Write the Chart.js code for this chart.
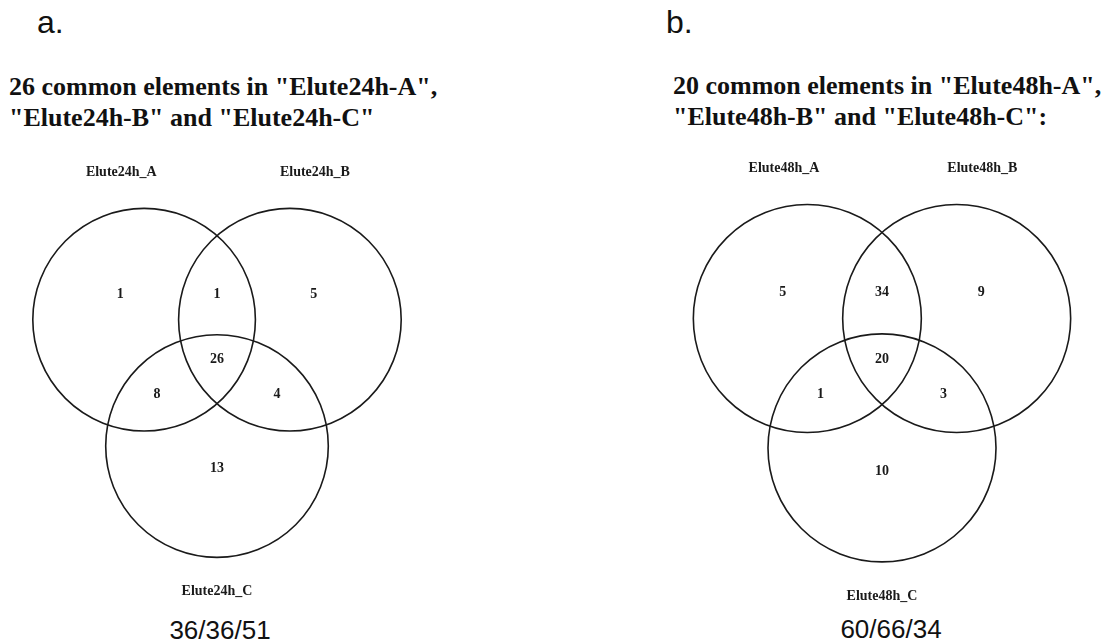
<!DOCTYPE html>
<html>
<head>
<meta charset="utf-8">
<title>Venn diagrams - Elute24h / Elute48h</title>
<script src="https://cdn.jsdelivr.net/npm/chart.js@4.4.1/dist/chart.umd.min.js"></script>
<style>
  html, body { margin: 0; padding: 0; background: #fff; }
  body { width: 1109px; height: 642px; position: relative; overflow: hidden; }
  .tag { position: absolute; font-family: "Liberation Sans", Arial, sans-serif; font-size: 32px; line-height: 32px; color: #111; }
  .title { position: absolute; font-family: "Liberation Serif", "Times New Roman", serif; font-weight: bold; font-size: 26px; line-height: 31px; color: #111; white-space: nowrap; }
  .foot { position: absolute; font-family: "Liberation Sans", Arial, sans-serif; font-size: 26px; line-height: 26px; color: #111; width: 200px; text-align: center; }
  canvas { position: absolute; }
</style>
</head>
<body>
<div class="tag" style="left:37px; top:6px;">a.</div>
<div class="tag" style="left:666px; top:6px;">b.</div>
<div class="title" id="titleA" style="left:9px; top:71px;"></div>
<div class="title" id="titleB" style="left:673px; top:70px;"></div>
<canvas id="vennA" width="400" height="460" style="left:20px; top:150px;"></canvas>
<canvas id="vennB" width="420" height="460" style="left:670px; top:150px;"></canvas>
<div class="foot" id="footA" style="left:120px; top:617px;"></div>
<div class="foot" id="footB" style="left:791px; top:616px;"></div>

<script>
(function () {
  'use strict';

  // urutan region: A saja, A&B, B saja, A&B&C, A&C, B&C, C saja
  const regions = ['A only', 'A and B', 'B only', 'A, B and C', 'A and C', 'B and C', 'C only'];

  const counts24h = [1, 1, 5, 26, 8, 4, 13];
  const counts48h = [5, 34, 9, 20, 1, 3, 10];

  const sets24h = ['Elute24h_A', 'Elute24h_B', 'Elute24h_C'];
  const sets48h = ['Elute48h_A', 'Elute48h_B', 'Elute48h_C'];

  const titles24h = ['26 common elements in "Elute24h-A",', '"Elute24h-B" and "Elute24h-C"'];
  const titles48h = ['20 common elements in "Elute48h-A",', '"Elute48h-B" and "Elute48h-C":'];

  // geometry of the diagram, in units of one circle radius
  const circleCenters = [[-0.655, 0], [0.655, 0], [0, -1.135]];
  const regionAnchors = [[-0.87, 0.23], [0, 0.23], [0.87, 0.23], [0, -0.36], [-0.54, -0.67], [0.54, -0.67], [0, -1.34]];
  const setLabelAnchors = [[-0.86, 1.32], [0.88, 1.32], [0, -2.44]];

  // which region belongs to which set (for the totals under each diagram)
  const membership = [
    [0, 1, 3, 4],  // A
    [1, 2, 3, 5],  // B
    [3, 4, 5, 6]   // C
  ];

  const INK = '#1a1a1a';

  // gambar lingkaran venn pakai skala chart nya
  const vennCircles = {
    id: 'vennCircles',
    beforeDatasetsDraw(chart) {
      const ctx = chart.ctx;
      const xs = chart.scales.x, ys = chart.scales.y;
      ctx.save();
      ctx.strokeStyle = INK;
      ctx.lineWidth = 1.6;
      circleCenters.forEach(function (c) {
        const px = xs.getPixelForValue(c[0]);
        const py = ys.getPixelForValue(c[1]);
        const rx = xs.getPixelForValue(c[0] + 1) - px;
        const ry = py - ys.getPixelForValue(c[1] + 1);
        ctx.beginPath();
        ctx.ellipse(px, py, rx, ry, 0, 0, Math.PI * 2);
        ctx.stroke();
      });
      ctx.restore();
    }
  };

  // tulis angka / nama set di posisi titik nya
  const pointText = {
    id: 'pointText',
    afterDatasetsDraw(chart) {
      const ctx = chart.ctx;
      ctx.save();
      ctx.fillStyle = INK;
      ctx.textAlign = 'center';
      ctx.textBaseline = 'middle';
      chart.data.datasets.forEach(function (ds, i) {
        const meta = chart.getDatasetMeta(i);
        ctx.font = ds.textFont;
        meta.data.forEach(function (el, j) {
          ctx.fillText(String(ds.texts[j]), el.x, el.y);
        });
      });
      ctx.restore();
    }
  };

  function makeVenn(canvasId, counts, setNames, box) {
    const canvas = document.getElementById(canvasId);
    const left = parseFloat(canvas.style.left), top = parseFloat(canvas.style.top);
    // range skala supaya pusat & jari2 pas di halaman
    const xMin = (left - box.cx) / box.r;
    const xMax = (left + canvas.width - box.cx) / box.r;
    const yMax = (box.cy - top) / box.r;
    const yMin = (box.cy - (top + canvas.height)) / box.r;

    return new Chart(canvas.getContext('2d'), {
      type: 'scatter',
      data: {
        datasets: [{
          label: 'counts',
          data: regionAnchors.map(function (a) { return { x: a[0], y: a[1] }; }),
          texts: counts,
          textFont: 'bold 14px "Liberation Serif", "Times New Roman", serif',
          pointRadius: 0
        }, {
          label: 'sets',
          data: setLabelAnchors.map(function (a) { return { x: a[0], y: a[1] }; }),
          texts: setNames,
          textFont: 'bold 14px "Liberation Serif", "Times New Roman", serif',
          pointRadius: 0
        }]
      },
      options: {
        responsive: false,
        animation: false,
        layout: { padding: 0 },
        scales: {
          x: { type: 'linear', min: xMin, max: xMax, display: false },
          y: { type: 'linear', min: yMin, max: yMax, display: false }
        },
        plugins: {
          legend: { display: false },
          tooltip: { enabled: false }
        }
      },
      plugins: [vennCircles, pointText]
    });
  }

  function totals(counts) {
    return membership.map(function (idx) {
      return idx.reduce(function (s, k) { return s + counts[k]; }, 0);
    });
  }

  document.getElementById('titleA').innerHTML = titles24h.map(function (t) { return t.replace(/&/g, '&amp;'); }).join('<br>');
  document.getElementById('titleB').innerHTML = titles48h.join('<br>');
  document.getElementById('footA').textContent = totals(counts24h).join('/');
  document.getElementById('footB').textContent = totals(counts48h).join('/');

  makeVenn('vennA', counts24h, sets24h, { cx: 217, cy: 319.7, r: 111.3 });
  makeVenn('vennB', counts48h, sets48h, { cx: 882, cy: 318.5, r: 114 });
})();
</script>
</body>
</html>
